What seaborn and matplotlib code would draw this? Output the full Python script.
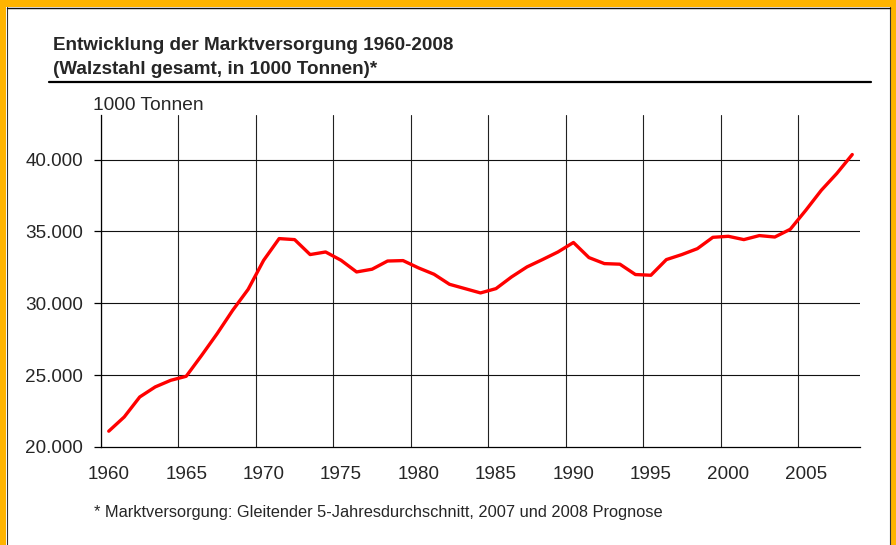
import pandas as pd
import seaborn as sns
import matplotlib.pyplot as plt
from matplotlib.patches import Rectangle
from matplotlib.lines import Line2D
from matplotlib.ticker import FuncFormatter

# Marktversorgung Walzstahl (1000 t)
years = list(range(1960, 2009))
supply = [21100, 22090, 23480, 24180, 24640, 24920, 26380, 27890, 29510, 30970,
          32990, 34500, 34430, 33390, 33570, 32990, 32180, 32370, 32940, 32970,
          32460, 32020, 31320, 31020, 30720, 31020, 31830, 32530, 33040, 33570,
          34230, 33180, 32760, 32720, 32000, 31950, 33040, 33390, 33800, 34590,
          34660, 34430, 34710, 34610, 35150, 36470, 37860, 39030, 40350]
tick_years = [1960, 1965, 1970, 1975, 1980, 1985, 1990, 1995, 2000, 2005]
y_ticks = [20000, 25000, 30000, 35000, 40000]

df = pd.DataFrame({'Jahr': years, 'Versorgung': supply})

sns.set_style('white')
plt.rcParams['font.family'] = ['Liberation Sans', 'DejaVu Sans']

fig = plt.figure(figsize=(8.96, 5.45), dpi=100)
ax = fig.add_axes([101 / 896, 1 - 447 / 545, 759 / 896, 332 / 545])

# grid at category boundaries
for x in [t - 0.5 for t in tick_years]:
    ax.axvline(x, color='#222222', lw=0.8, zorder=1)
for y in y_ticks[1:]:
    ax.axhline(y, color='#111111', lw=0.8, zorder=1)

sns.lineplot(data=df, x='Jahr', y='Versorgung', color='#ff0000', lw=2.4, ax=ax, zorder=3)

ax.set_xlim(1959.5, 2008.5)
ax.set_ylim(20000, 43100)
ax.set_xticks(tick_years)
ax.set_yticks(y_ticks)
ax.yaxis.set_major_formatter(FuncFormatter(lambda v, p: f'{int(v):,}'.replace(',', '.')))
ax.set_xlabel('')
ax.set_ylabel('')
for s in ['top', 'right']:
    ax.spines[s].set_visible(False)
for s in ['left', 'bottom']:
    ax.spines[s].set_color('black')
    ax.spines[s].set_linewidth(0.9)
ax.tick_params(axis='x', length=0, pad=13.5, labelsize=13.6)
ax.tick_params(axis='y', length=5, width=0.9, color='black', pad=8, labelsize=13.6, left=True)

# titles and notes
fig.text(53 / 896, 1 - 46 / 545, 'Entwicklung der Marktversorgung 1960-2008',
         fontsize=13.6, fontweight='bold', va='center', ha='left')
fig.text(53 / 896, 1 - 69 / 545, '(Walzstahl gesamt, in 1000 Tonnen)*',
         fontsize=13.6, fontweight='bold', va='center', ha='left')
fig.add_artist(Line2D([49 / 896, 871 / 896], [1 - 82 / 545] * 2, color='black', lw=1.6))
fig.text(93 / 896, 1 - 105 / 545, '1000 Tonnen', fontsize=13.8, va='center', ha='left')
fig.text(94 / 896, 1 - 513 / 545,
         '* Marktversorgung: Gleitender 5-Jahresdurchschnitt, 2007 und 2008 Prognose',
         fontsize=11.8, va='center', ha='left')

# orange frame
orange = '#ffb400'
fig.patches.append(Rectangle((0, 1 - 7 / 545), 1, 7 / 545, transform=fig.transFigure,
                             facecolor=orange, edgecolor='none'))
fig.patches.append(Rectangle((0, 0), 6 / 896, 1, transform=fig.transFigure,
                             facecolor=orange, edgecolor='none'))
fig.patches.append(Rectangle((1 - 6 / 896, 0), 6 / 896, 1, transform=fig.transFigure,
                             facecolor=orange, edgecolor='none'))
fig.add_artist(Line2D([6.5 / 896, 6.5 / 896], [0, 1 - 7 / 545], color='#333333', lw=0.8))
fig.add_artist(Line2D([1 - 6.5 / 896, 1 - 6.5 / 896], [0, 1 - 7 / 545], color='#333333', lw=0.8))
fig.add_artist(Line2D([6.5 / 896, 1 - 6.5 / 896], [1 - 7.5 / 545] * 2, color='#111111', lw=1.0))

fig.savefig('out.png', dpi=100, facecolor='white')
